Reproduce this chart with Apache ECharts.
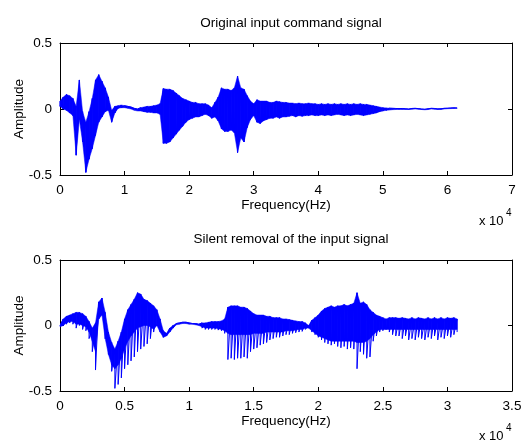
<!DOCTYPE html>
<html>
<head>
<meta charset="utf-8">
<script src="https://cdn.jsdelivr.net/npm/echarts/dist/echarts.min.js"></script>
<style>
html, body { margin: 0; background: #fff; }
#main { width: 522px; height: 444px; }
</style>
</head>
<body>
<div id="main"></div>
<script>
// sample spacing (Hz) of the envelope readings
var topStep = 500;
var botStep = 250;

// original signal: upper / lower envelope, one value per 500 Hz (0 .. 61500)
var topHi = [
  0.06, 0.09, 0.11, 0.10, 0.08, 0.02, 0.22, -0.02, -0.10, -0.02,
  0.08, 0.22, 0.26, 0.21, 0.16, 0.09, -0.01, 0.02, 0.025, 0.03,
  0.025, 0.02, 0.015, 0.005, 0.0, 0.01, 0.015, 0.02, 0.02, 0.025,
  0.03, 0.04, 0.155, 0.15, 0.15, 0.14, 0.12, 0.10, 0.08, 0.07,
  0.06, 0.05, 0.05, 0.04, 0.04, 0.04, 0.03, 0.01, 0.05, 0.09,
  0.16, 0.15, 0.15, 0.14, 0.16, 0.25, 0.16, 0.15, 0.10, 0.06,
  0.04, 0.07, 0.06, 0.06, 0.06, 0.05, 0.05, 0.06, 0.055, 0.05,
  0.05, 0.045, 0.045, 0.04, 0.045, 0.04, 0.04, 0.045, 0.04, 0.04,
  0.035, 0.04, 0.035, 0.04, 0.035, 0.04, 0.035, 0.04, 0.035, 0.04,
  0.035, 0.04, 0.035, 0.04, 0.035, 0.035, 0.03, 0.025, 0.02, 0.015,
  0.01, 0.008, 0.006, 0.005, 0.004, 0.003, 0.004, 0.002, 0.0, 0.004,
  0.005, 0.003, 0.0, -0.002, 0.002, 0.005, 0.004, 0.001, 0.002, 0.005,
  0.006, 0.008, 0.009, 0.008
];
var topLo = [
  0.02, 0.00, -0.01, -0.03, -0.05, -0.35, -0.08, -0.25, -0.48, -0.38,
  -0.30, -0.20, -0.10, -0.06, -0.02, -0.01, -0.10, -0.03, 0.005, 0.01,
  0.01, 0.005, 0.0, -0.01, -0.015, -0.015, -0.02, -0.025, -0.025, -0.03,
  -0.03, -0.04, -0.26, -0.26, -0.25, -0.22, -0.19, -0.16, -0.13, -0.10,
  -0.08, -0.07, -0.06, -0.06, -0.05, -0.04, -0.05, -0.07, -0.06, -0.09,
  -0.15, -0.17, -0.17, -0.16, -0.18, -0.33, -0.22, -0.25, -0.14, -0.08,
  -0.05, -0.10, -0.11, -0.09, -0.08, -0.07, -0.07, -0.06, -0.07, -0.06,
  -0.06, -0.055, -0.05, -0.06, -0.05, -0.055, -0.05, -0.05, -0.045, -0.05,
  -0.05, -0.045, -0.05, -0.045, -0.05, -0.045, -0.04, -0.045, -0.05, -0.045,
  -0.05, -0.045, -0.04, -0.045, -0.05, -0.045, -0.04, -0.035, -0.03, -0.02,
  -0.015, -0.01, -0.008, -0.005, -0.004, -0.003, -0.004, -0.003, -0.004, -0.002,
  0.0, -0.002, -0.004, -0.006, -0.004, 0.0, -0.002, -0.004, -0.003, 0.0,
  0.002, 0.003, 0.004, 0.005
];

// silence removed signal, one value per 250 Hz (0 .. 30750):
// upper envelope, lower edge of the dense body, and tips of the downward spikes
var botHi = [
  0.00, 0.05, 0.07, 0.08, 0.09, 0.10, 0.10, 0.09, 0.07, 0.03,
  -0.02, 0.02, 0.18, 0.21, 0.10, -0.05, -0.13, -0.18, -0.12, -0.05,
  0.05, 0.12, 0.16, 0.20, 0.25, 0.24, 0.20, 0.19, 0.17, 0.15,
  0.12, 0.05, -0.04, -0.06, -0.02, 0.00, 0.015, 0.02, 0.025, 0.025,
  0.02, 0.015, 0.015, 0.01, 0.02, 0.02, 0.025, 0.03, 0.03, 0.03,
  0.035, 0.05, 0.14, 0.15, 0.15, 0.15, 0.14, 0.14, 0.13, 0.11,
  0.09, 0.08, 0.08, 0.08, 0.07, 0.07, 0.06, 0.06, 0.06, 0.05,
  0.05, 0.045, 0.04, 0.035, 0.03, 0.03, 0.02, 0.00, 0.04, 0.06,
  0.08, 0.11, 0.13, 0.14, 0.15, 0.14, 0.15, 0.15, 0.16, 0.15,
  0.16, 0.17, 0.25, 0.17, 0.18, 0.16, 0.12, 0.10, 0.08, 0.07,
  0.06, 0.05, 0.06, 0.06, 0.06, 0.055, 0.06, 0.055, 0.05, 0.06,
  0.05, 0.06, 0.055, 0.05, 0.06, 0.05, 0.06, 0.05, 0.06, 0.05,
  0.06, 0.055, 0.06, 0.05
];
var botBody = [
  -0.01, 0.00, 0.02, 0.03, 0.03, 0.01, 0.01, 0.00, -0.01, -0.05,
  -0.12, -0.20, 0.05, 0.08, -0.10, -0.22, -0.30, -0.33, -0.30, -0.25,
  -0.18, -0.12, -0.08, -0.05, -0.02, -0.01, 0.00, 0.00, -0.01, -0.03,
  0.00, -0.05, -0.09, -0.08, -0.05, -0.02, 0.005, 0.01, 0.015, 0.015,
  0.01, 0.01, 0.005, 0.00, -0.01, -0.02, -0.02, -0.02, -0.02, -0.025,
  -0.03, -0.04, -0.06, -0.07, -0.07, -0.07, -0.07, -0.07, -0.07, -0.07,
  -0.06, -0.06, -0.06, -0.06, -0.05, -0.05, -0.05, -0.05, -0.05, -0.05,
  -0.04, -0.04, -0.04, -0.035, -0.03, -0.03, -0.02, -0.02, -0.04, -0.06,
  -0.08, -0.09, -0.10, -0.11, -0.12, -0.12, -0.12, -0.12, -0.12, -0.12,
  -0.12, -0.12, -0.13, -0.13, -0.13, -0.12, -0.10, -0.07, -0.05, -0.03,
  -0.03, -0.03, -0.03, -0.03, -0.03, -0.03, -0.03, -0.03, -0.03, -0.03,
  -0.03, -0.03, -0.03, -0.03, -0.03, -0.03, -0.03, -0.03, -0.03, -0.03,
  -0.03, -0.03, -0.03, -0.03
];
var botLo = [
  -0.01, 0.00, 0.01, 0.02, 0.01, -0.02, 0.00, -0.03, -0.04, -0.10,
  -0.20, -0.34, 0.05, 0.08, -0.10, -0.22, -0.35, -0.48, -0.45, -0.40,
  -0.33, -0.30, -0.27, -0.24, -0.20, -0.18, -0.16, -0.14, -0.10, -0.05,
  0.00, -0.05, -0.09, -0.08, -0.05, -0.02, 0.005, 0.01, 0.015, 0.015,
  0.01, 0.01, 0.005, 0.00, -0.02, -0.03, -0.03, -0.03, -0.03, -0.035,
  -0.04, -0.06, -0.26, -0.25, -0.26, -0.25, -0.25, -0.24, -0.25, -0.20,
  -0.18, -0.17, -0.15, -0.14, -0.13, -0.11, -0.10, -0.09, -0.09, -0.08,
  -0.07, -0.07, -0.06, -0.055, -0.05, -0.045, -0.03, -0.02, -0.05, -0.07,
  -0.09, -0.11, -0.13, -0.14, -0.15, -0.14, -0.16, -0.17, -0.16, -0.18,
  -0.17, -0.18, -0.33, -0.20, -0.22, -0.25, -0.24, -0.12, -0.08, -0.05,
  -0.04, -0.03, -0.05, -0.07, -0.08, -0.08, -0.10, -0.08, -0.11, -0.10,
  -0.11, -0.09, -0.10, -0.11, -0.09, -0.10, -0.08, -0.11, -0.09, -0.10,
  -0.08, -0.09, -0.07, -0.05
];

var yTicks = [-0.5, 0, 0.5];

var FONT = "'Liberation Sans', Arial, sans-serif";
var BLUE = "#0000ff";

// each reading gives a vertical stroke hi -> lo, strokes joined in order
function zigzag(hi, lo, step) {
  var d = [];
  for (var i = 0; i < hi.length; i++) {
    d.push([i * step, hi[i]]);
    d.push([i * step, lo[i]]);
  }
  return d;
}

// one quad per pair of neighbouring readings: [x0, hi0, lo0, x1, hi1, lo1]
function bands(hi, lo, step) {
  var d = [];
  for (var i = 0; i < hi.length - 1; i++) {
    d.push([i * step, hi[i], lo[i], (i + 1) * step, hi[i + 1], lo[i + 1]]);
  }
  return d;
}

function renderBand(params, api) {
  var a = api.coord([api.value(0), api.value(1)]);
  var b = api.coord([api.value(3), api.value(4)]);
  var c = api.coord([api.value(3), api.value(5)]);
  var d = api.coord([api.value(0), api.value(2)]);
  return {
    type: "polygon",
    shape: { points: [a, b, c, d] },
    style: { fill: BLUE, stroke: BLUE, lineWidth: 0.5 },
  };
}

// filled body plus the zigzag trace (reaching the spike tips) on top
function signalSeries(axis, hi, body, lo, step) {
  return [
    {
      type: "custom", xAxisIndex: axis, yAxisIndex: axis,
      data: bands(hi, body, step),
      encode: { x: [0, 3], y: [1, 2, 4, 5] },
      renderItem: renderBand,
      silent: true,
    },
    {
      type: "line", xAxisIndex: axis, yAxisIndex: axis,
      data: zigzag(hi, lo, step),
      showSymbol: false,
      lineStyle: { color: BLUE, width: 1 },
    },
  ];
}

function xAxes(grid, max, interval) {
  var base = {
    gridIndex: grid,
    type: "value",
    min: 0,
    max: max,
    interval: interval,
    splitLine: { show: false },
    axisLine: { show: true, onZero: false, lineStyle: { color: "#000", width: 1 } },
    axisTick: { show: true, inside: true, length: 4, lineStyle: { color: "#000" } },
  };
  return [
    Object.assign({}, base, {
      position: "bottom",
      axisLabel: {
        color: "#000",
        fontSize: 13.5,
        fontFamily: FONT,
        margin: 8,
        formatter: function (v) { return String(v / 10000); },
      },
      name: "Frequency(Hz)",
      nameLocation: "middle",
      nameGap: 22,
      nameTextStyle: { color: "#000", fontSize: 13.5, fontFamily: FONT },
    }),
    Object.assign({}, base, { position: "top", axisLabel: { show: false } }),
  ];
}

function yAxes(grid) {
  var base = {
    gridIndex: grid,
    type: "value",
    min: yTicks[0],
    max: yTicks[yTicks.length - 1],
    interval: 0.5,
    splitLine: { show: false },
    axisLine: { show: true, onZero: false, lineStyle: { color: "#000", width: 1 } },
    axisTick: { show: true, inside: true, length: 4, lineStyle: { color: "#000" } },
  };
  return [
    Object.assign({}, base, {
      position: "left",
      axisLabel: { color: "#000", fontSize: 13.5, fontFamily: FONT, margin: 8 },
      name: "Amplitude",
      nameLocation: "middle",
      nameGap: 34,
      nameMoveOverlap: false,
      nameTextStyle: { color: "#000", fontSize: 13.5, fontFamily: FONT },
    }),
    Object.assign({}, base, { position: "right", axisLabel: { show: false } }),
  ];
}

var chart = echarts.init(document.getElementById("main"));

var option = {
  backgroundColor: "#fff",
  animation: false,
  title: [
    {
      text: "Original input command signal",
      left: 286, top: 11, textAlign: "center",
      textStyle: { fontSize: 13.5, fontWeight: "normal", color: "#000", fontFamily: FONT },
    },
    {
      text: "Silent removal of the input signal",
      left: 286, top: 227, textAlign: "center",
      textStyle: { fontSize: 13.5, fontWeight: "normal", color: "#000", fontFamily: FONT },
    },
  ],
  grid: [
    { left: 60, top: 43, width: 452, height: 132, containLabel: false, outerBoundsMode: "none" },
    { left: 60, top: 260, width: 452, height: 131, containLabel: false, outerBoundsMode: "none" },
  ],
  xAxis: xAxes(0, 70000, 10000).concat(xAxes(1, 35000, 5000)),
  yAxis: yAxes(0).concat(yAxes(1)),
  series: signalSeries(0, topHi, topLo, topLo, topStep)
    .concat(signalSeries(2, botHi, botBody, botLo, botStep)),
  graphic: [
    { type: "text", left: 479, top: 215, style: { text: "x 10", fontSize: 13, fontFamily: FONT, fill: "#000" } },
    { type: "text", left: 506, top: 208, style: { text: "4", fontSize: 10, fontFamily: FONT, fill: "#000" } },
    { type: "text", left: 479, top: 430, style: { text: "x 10", fontSize: 13, fontFamily: FONT, fill: "#000" } },
    { type: "text", left: 506, top: 423, style: { text: "4", fontSize: 10, fontFamily: FONT, fill: "#000" } },
  ],
};

chart.setOption(option);
</script>
</body>
</html>
